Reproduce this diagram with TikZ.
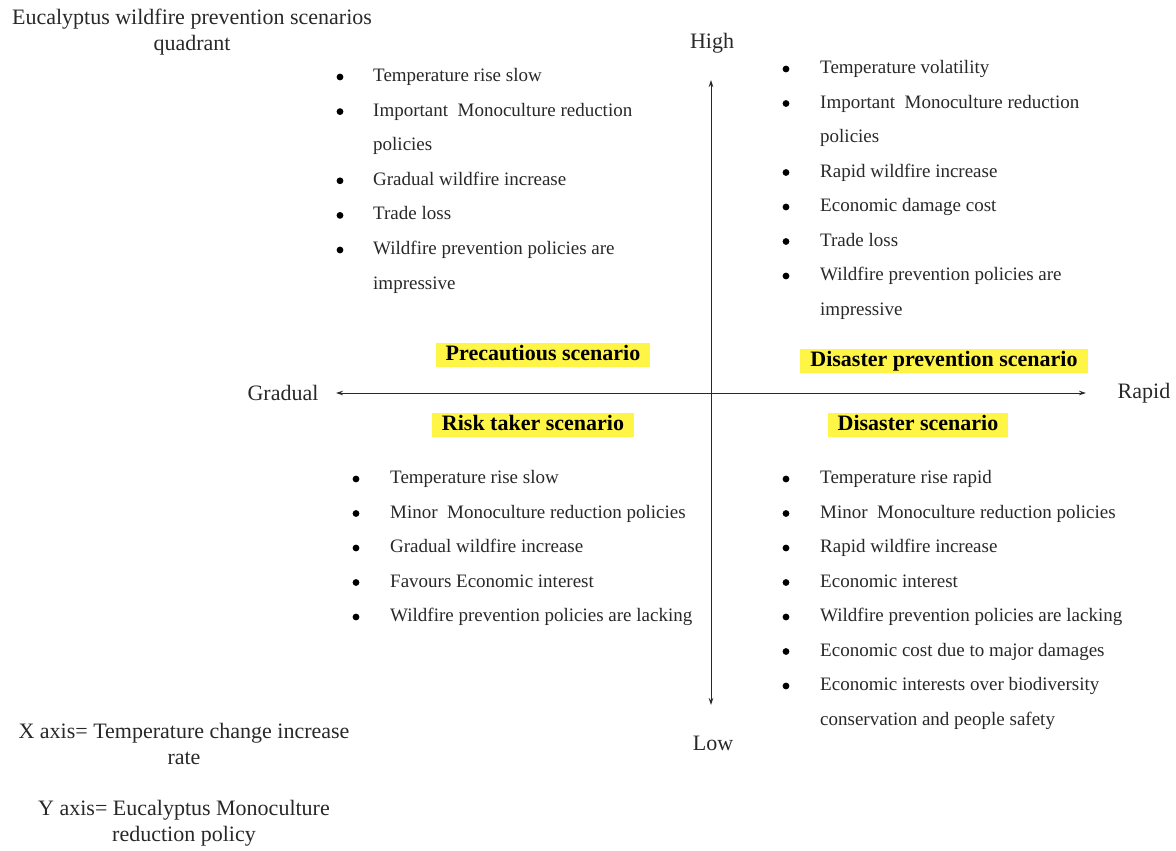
\documentclass[tikz,border=0pt]{standalone}
\usepackage{fontspec}
\setmainfont{Liberation Serif}
\usetikzlibrary{arrows.meta}
\definecolor{hl}{RGB}{255,245,70}
\definecolor{ink}{RGB}{40,40,40}
\begin{document}
\begin{tikzpicture}[x=1pt,y=-1pt,
  item/.style={anchor=west,inner sep=0pt,text height=13pt,text depth=4pt,font=\fontsize{19}{22}\selectfont,text=ink},
  lbl/.style={inner sep=0pt,font=\fontsize{22}{26}\selectfont,text=ink,align=center},
  scen/.style={fill=hl,inner xsep=10pt,inner ysep=2pt,text height=15pt,text depth=5pt,font=\bfseries\fontsize{22}{26}\selectfont,text=black},
  axis/.style={draw=ink,line width=0.9pt,{Stealth[length=7pt,width=4.5pt]}-{Stealth[length=7pt,width=4.5pt]}},
  dot/.style={fill=black}]
\useasboundingbox (0,0) rectangle (1176,851);
% title and notes
\node[lbl] (title) at (192,32) {Eucalyptus wildfire prevention scenarios\\quadrant};
\node[lbl] (xnote) at (184,744) {X axis= Temperature change increase\\rate};
\node[lbl] (ynote) at (184,823) {Y axis= Eucalyptus Monoculture\\reduction policy};
% axes
\coordinate (xl) at (336,393);
\coordinate (xr) at (1086,393);
\coordinate (yt) at (711,80);
\coordinate (yb) at (711,705);
\draw[axis] (xl) -- (xr);
\draw[axis] (yb) -- (yt);
\node[lbl] (grad) at (283,393) {Gradual};
\node[lbl] (rap) at (1144,393) {Rapid};
\node[lbl] (high) at (712,43) {High};
\node[lbl] (low) at (713,743) {Low};
% scenario labels
\node[scen] (prec) at (543,355) {Precautious scenario};
\node[scen] (dprev) at (944,361) {Disaster prevention scenario};
\node[scen] (risk) at (533,425) {Risk taker scenario};
\node[scen] (dis) at (918,425) {Disaster scenario};
% top left
\foreach \b/\t [count=\i] in {1/Temperature rise slow,1/Important\ \ Monoculture reduction,0/policies,1/Gradual wildfire increase,1/Trade loss,1/Wildfire prevention policies are,0/impressive}{
  \node[item] (tl\i) at (373,{77+(\i-1)*34.6}) {\t};
  \ifnum\b=1 \fill[dot] ([xshift=-33pt]tl\i.west) circle (3.4); \fi
}
% top right
\foreach \b/\t [count=\i] in {1/Temperature volatility,1/Important\ \ Monoculture reduction,0/policies,1/Rapid wildfire increase,1/Economic damage cost,1/Trade loss,1/Wildfire prevention policies are,0/impressive}{
  \node[item] (tr\i) at (820,{69+(\i-1)*34.5}) {\t};
  \ifnum\b=1 \fill[dot] ([xshift=-34pt]tr\i.west) circle (3.4); \fi
}
% bottom left
\foreach \b/\t [count=\i] in {1/Temperature rise slow,1/Minor\ \ Monoculture reduction policies,1/Gradual wildfire increase,1/Favours Economic interest,1/Wildfire prevention policies are lacking}{
  \node[item] (bl\i) at (390,{479+(\i-1)*34.5}) {\t};
  \ifnum\b=1 \fill[dot] ([xshift=-34pt]bl\i.west) circle (3.4); \fi
}
% bottom right
\foreach \b/\t [count=\i] in {1/Temperature rise rapid,1/Minor\ \ Monoculture reduction policies,1/Rapid wildfire increase,1/Economic interest,1/Wildfire prevention policies are lacking,1/Economic cost due to major damages,1/Economic interests over biodiversity,0/conservation and people safety}{
  \node[item] (br\i) at (820,{479+(\i-1)*34.5}) {\t};
  \ifnum\b=1 \fill[dot] ([xshift=-34pt]br\i.west) circle (3.4); \fi
}
\end{tikzpicture}
\end{document}
